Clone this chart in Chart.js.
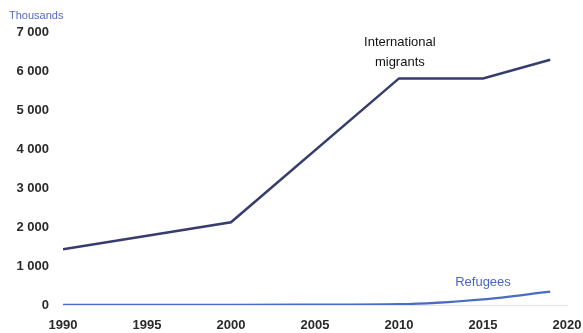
<!DOCTYPE html>
<html>
<head>
<meta charset="utf-8">
<script src="https://cdn.jsdelivr.net/npm/chart.js@4/dist/chart.umd.min.js"></script>
<style>
  html, body { margin: 0; padding: 0; background: #ffffff; }
  #wrap { width: 583px; height: 333px; position: relative; }
</style>
</head>
<body>
<div id="wrap"><canvas id="c" width="583" height="333"></canvas></div>
<script>
// Migrant stock and refugee population, thousands
const years = [1990, 2000, 2010, 2015, 2019];
const migrants = [1430, 2120, 5810, 5810, 6290];

const refugeeYears = [1990, 2000, 2005, 2010, 2015, 2019];
const refugees = [5, 5, 8, 20, 145, 345];

const yTicks = [0, 1000, 2000, 3000, 4000, 5000, 6000, 7000];
const xTicks = [1990, 1995, 2000, 2005, 2010, 2015, 2020];

const fmt = v => String(v).replace(/\B(?=(\d{3})+(?!\d))/g, ' ');
const FONT = '"Liberation Sans", Arial, sans-serif';

const labelPlugin = {
  id: 'seriesLabels',
  afterDatasetsDraw(chart) {
    const { ctx } = chart;
    const xs = chart.scales.x, ys = chart.scales.y;
    ctx.save();
    ctx.textBaseline = 'middle';
    // unit caption above the value axis
    ctx.font = '11px ' + FONT;
    ctx.fillStyle = '#5a68c0';
    ctx.textAlign = 'left';
    ctx.fillText('Thousands', 9, 16);
    // series names
    ctx.textAlign = 'center';
    ctx.font = '13px ' + FONT;
    ctx.fillStyle = '#111111';
    const mx = xs.getPixelForValue(2010.05);
    ctx.fillText('International', mx, ys.getPixelForValue(6740));
    ctx.fillText('migrants', mx, ys.getPixelForValue(6230));
    ctx.fillStyle = '#4a66c4';
    ctx.fillText('Refugees', xs.getPixelForValue(2015), ys.getPixelForValue(590));
    ctx.restore();
  }
};

new Chart(document.getElementById('c'), {
  type: 'line',
  data: {
    datasets: [
      {
        label: 'International migrants',
        data: years.map((y, i) => ({ x: y, y: migrants[i] })),
        borderColor: '#363d6e',
        borderWidth: 2.5,
        pointRadius: 0,
        tension: 0,
        fill: false
      },
      {
        label: 'Refugees',
        data: refugeeYears.map((y, i) => ({ x: y, y: refugees[i] })),
        borderColor: '#4a6cc4',
        borderWidth: 2.2,
        pointRadius: 0,
        cubicInterpolationMode: 'monotone',
        fill: false
      }
    ]
  },
  options: {
    responsive: false,
    animation: false,
    devicePixelRatio: 1,
    layout: { padding: { left: 0, top: 32, right: 16, bottom: 0 } },
    plugins: { legend: { display: false }, tooltip: { enabled: false } },
    scales: {
      x: {
        type: 'linear',
        min: 1990,
        max: 2020,
        afterBuildTicks: s => { s.ticks = xTicks.map(v => ({ value: v })); },
        afterFit: s => { s.height = 28; },
        grid: {
          display: true,
          drawOnChartArea: false,
          drawTicks: true,
          tickLength: 12,
          tickColor: 'rgba(0,0,0,0)'
        },
        border: { display: true, color: '#e4e4e4', width: 1 },
        ticks: {
          color: '#2a2a2a',
          font: { family: FONT, size: 13, weight: 'bold' },
          padding: 1,
          maxRotation: 0,
          callback: v => String(v)
        }
      },
      y: {
        min: 0,
        max: 7000,
        afterBuildTicks: s => { s.ticks = yTicks.map(v => ({ value: v })); },
        afterFit: s => { s.width = 63; },
        grid: { display: false, drawTicks: false },
        border: { display: false },
        ticks: {
          color: '#2a2a2a',
          font: { family: FONT, size: 13, weight: 'bold' },
          padding: 14,
          callback: v => fmt(v)
        }
      }
    }
  },
  plugins: [labelPlugin]
});
</script>
</body>
</html>
